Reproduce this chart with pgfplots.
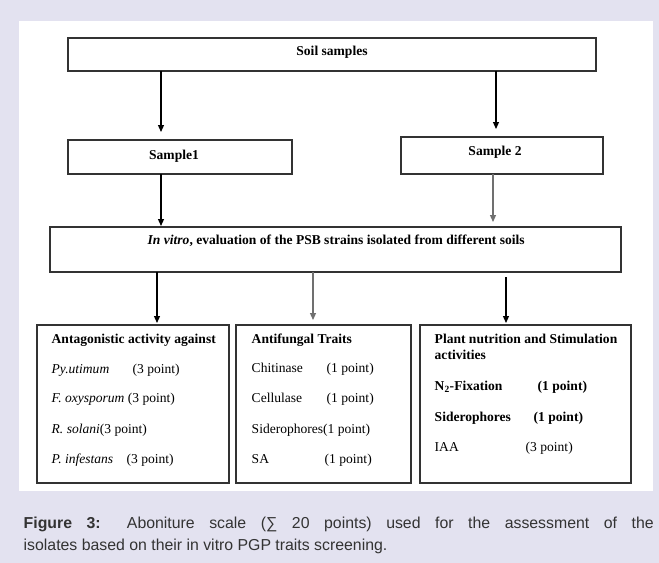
\documentclass[border=0pt]{standalone}
\usepackage{pgfplots}
\pgfplotsset{compat=1.18}
\usepackage{fontspec}
\setmainfont{Liberation Serif}
\newfontfamily\capfont{Liberation Sans}
\usetikzlibrary{arrows.meta}
\definecolor{bg}{HTML}{E3E2F0}
\definecolor{capcol}{HTML}{333333}
\definecolor{boxcol}{HTML}{333333}
\definecolor{grayarr}{HTML}{707070}
\newcommand{\fs}{\fontsize{13.6}{16}\selectfont}
\begin{document}
\fs
\begin{tikzpicture}[every node/.append style={font=\fs}]
\begin{axis}[scale only axis, width=659bp, height=563bp,
  xmin=0, xmax=659, ymin=0, ymax=563, y dir=reverse,
  hide axis, clip=false,
  every node/.append style={inner sep=0pt},
  arr/.style={draw=black, line width=1.2bp, -{Triangle[length=7bp,width=6bp]}},
  box/.style={draw=boxcol, line width=1.2bp, line join=miter}]
% background and panel
\addplot[fill=bg, draw=none] coordinates {(0,0)(659,0)(659,563)(0,563)} -- cycle;
\addplot[fill=white, draw=none] coordinates {(19,21)(653,21)(653,491)(19,491)} -- cycle;
% boxes
\addplot[box] coordinates {(68,38)(596,38)(596,71)(68,71)} -- cycle;
\addplot[box] coordinates {(68,140)(292,140)(292,174)(68,174)} -- cycle;
\addplot[box] coordinates {(401,137)(603,137)(603,174)(401,174)} -- cycle;
\addplot[box] coordinates {(50,227)(621,227)(621,272)(50,272)} -- cycle;
\addplot[box] coordinates {(37,325)(229,325)(229,483)(37,483)} -- cycle;
\addplot[box] coordinates {(236,325)(411,325)(411,483)(236,483)} -- cycle;
\addplot[box] coordinates {(420,325)(631,325)(631,483)(420,483)} -- cycle;
% arrows
\addplot[arr] coordinates {(161,71)(161,132)};
\addplot[arr] coordinates {(496,71)(496,129)};
\addplot[arr] coordinates {(161,174)(161,226)};
\addplot[arr, draw=grayarr] coordinates {(493,174)(493,222)};
\addplot[arr] coordinates {(157,272)(157,323)};
\addplot[arr, draw=grayarr] coordinates {(313,272)(313,320)};
\addplot[arr] coordinates {(506,277)(506,323)};
% texts top
\node[anchor=base, font=\fs] at (axis cs:332,56) {\bfseries Soil samples};
\node[anchor=base, font=\fs] at (axis cs:174,159) {\bfseries Sample1};
\node[anchor=base, font=\fs] at (axis cs:495,155) {\bfseries Sample 2};
\node[anchor=base west, font=\fs] at (axis cs:143,244) {\bfseries\itshape In vitro\upshape, evaluation of the PSB strains isolated from different soils};
% box A
\node[anchor=base west, font=\fs] at (axis cs:47,343) {\bfseries Antagonistic activity against};
\node[anchor=base west, font=\fs] at (axis cs:47,373) {\itshape Py.utimum};
\node[anchor=base west, font=\fs] at (axis cs:128,373) {(3 point)};
\node[anchor=base west, font=\fs] at (axis cs:47,402) {\itshape F. oxysporum\upshape\ (3 point)};
\node[anchor=base west, font=\fs] at (axis cs:47,433) {\itshape R. solani\upshape(3 point)};
\node[anchor=base west, font=\fs] at (axis cs:47,463) {\itshape P. infestans};
\node[anchor=base west, font=\fs] at (axis cs:122,463) {(3 point)};
% box B
\node[anchor=base west, font=\fs] at (axis cs:247,343) {\bfseries Antifungal Traits};
\node[anchor=base west, font=\fs] at (axis cs:247,372) {Chitinase};
\node[anchor=base west, font=\fs] at (axis cs:322,372) {(1 point)};
\node[anchor=base west, font=\fs] at (axis cs:247,402) {Cellulase};
\node[anchor=base west, font=\fs] at (axis cs:322,402) {(1 point)};
\node[anchor=base west, font=\fs] at (axis cs:247,433) {Siderophores(1 point)};
\node[anchor=base west, font=\fs] at (axis cs:247,463) {SA};
\node[anchor=base west, font=\fs] at (axis cs:320,463) {(1 point)};
% box C
\node[anchor=base west, font=\fs] at (axis cs:430,343) {\bfseries Plant nutrition and Stimulation};
\node[anchor=base west, font=\fs] at (axis cs:430,359) {\bfseries activities};
\node[anchor=base west, font=\fs] at (axis cs:430,390) {\bfseries N\textsubscript{2}-Fixation};
\node[anchor=base west, font=\fs] at (axis cs:533,390) {\bfseries (1 point)};
\node[anchor=base west, font=\fs] at (axis cs:430,421) {\bfseries Siderophores};
\node[anchor=base west, font=\fs] at (axis cs:529,421) {\bfseries (1 point)};
\node[anchor=base west, font=\fs] at (axis cs:430,451) {IAA};
\node[anchor=base west, font=\fs] at (axis cs:521,451) {(3 point)};
% caption
\node[anchor=base west, text=capcol] at (axis cs:19,528) {\parbox[t]{630bp}{\capfont\fontsize{15.9}{23}\selectfont
\textbf{Figure 3:} Aboniture scale (∑ 20 points) used for the assessment of the\linebreak isolates based on their in vitro PGP traits screening.}};
\end{axis}
\end{tikzpicture}
\end{document}
